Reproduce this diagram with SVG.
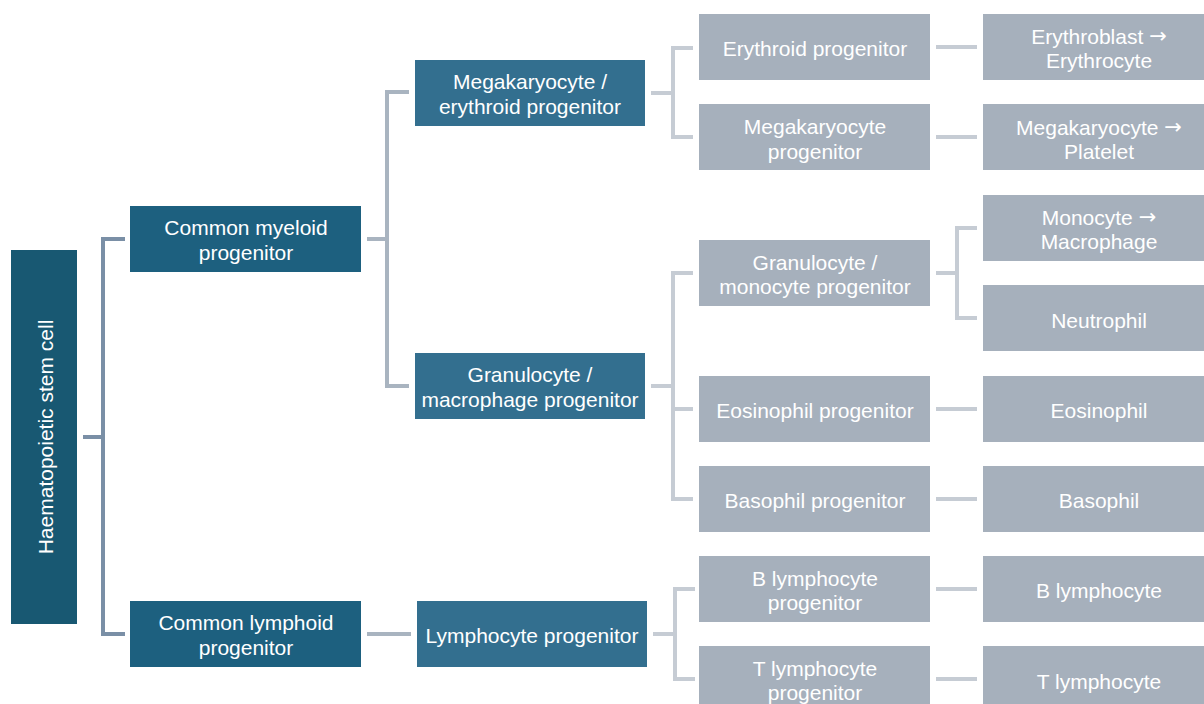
<svg xmlns="http://www.w3.org/2000/svg" width="1204" height="704" viewBox="0 0 1204 704">
<style>
.t{font-family:"Liberation Sans",Arial,sans-serif;font-size:21px;fill:#ffffff;text-anchor:middle;dominant-baseline:central}
.ar{font-family:"DejaVu Sans",sans-serif}
.hsc{fill:#185872}
.d1{fill:#1d607f}
.d2{fill:#336f8f}
.g{fill:#a6b0bc}
.c1{stroke:#7a8fa6;stroke-width:4;fill:none}
.c2{stroke:#a9b4c0;stroke-width:4;fill:none}
.c3{stroke:#c6ccd4;stroke-width:4;fill:none}
</style>
<rect width="1204" height="704" fill="#ffffff"/>
<g id="connectors">
<path class="c1" d="M83 437H103M125 239H103V634H125"/>
<path class="c2" d="M367 239H387M409 92H387V386H409"/>
<path class="c2" d="M367 634H411"/>
<path class="c3" d="M651 93H673M693 48H673V137H693"/>
<path class="c3" d="M651 386H673M693 273H673V499H693M673 409H693"/>
<path class="c3" d="M653 634H675M695 589H675V679H695"/>
<path class="c3" d="M936 273H957M977 228H957V318H977"/>
<path class="c3" d="M936 47H977M936 137H977M936 409H977M936 499H977M936 589H977M936 679H977"/>
</g>
<g id="hsc"><rect class="hsc" x="11" y="250" width="66" height="374"/><text class="t" transform="translate(45 437) rotate(-90)">Haematopoietic stem cell</text></g>
<g id="cmp"><rect class="d1" x="130" y="206" width="231" height="66"/><text class="t" x="246" y="227">Common myeloid</text><text class="t" x="246" y="252">progenitor</text></g>
<g id="clp"><rect class="d1" x="130" y="601" width="231" height="66"/><text class="t" x="246" y="622">Common lymphoid</text><text class="t" x="246" y="647">progenitor</text></g>
<g id="mep"><rect class="d2" x="415" y="60" width="230" height="66"/><text class="t" x="530" y="81">Megakaryocyte /</text><text class="t" x="530" y="106">erythroid progenitor</text></g>
<g id="gmp"><rect class="d2" x="415" y="353" width="230" height="66"/><text class="t" x="530" y="374">Granulocyte /</text><text class="t" x="530" y="399">macrophage progenitor</text></g>
<g id="lp"><rect class="d2" x="417" y="601" width="230" height="66"/><text class="t" x="532" y="635">Lymphocyte progenitor</text></g>
<g id="ep"><rect class="g" x="699" y="14" width="231" height="66"/><text class="t" x="815" y="48">Erythroid progenitor</text></g>
<g id="mkp"><rect class="g" x="699" y="104" width="231" height="66"/><text class="t" x="815" y="126">Megakaryocyte</text><text class="t" x="815" y="151">progenitor</text></g>
<g id="gmop"><rect class="g" x="699" y="240" width="231" height="66"/><text class="t" x="815" y="262">Granulocyte /</text><text class="t" x="815" y="286">monocyte progenitor</text></g>
<g id="eop"><rect class="g" x="699" y="376" width="231" height="66"/><text class="t" x="815" y="410">Eosinophil progenitor</text></g>
<g id="bap"><rect class="g" x="699" y="466" width="231" height="66"/><text class="t" x="815" y="500">Basophil progenitor</text></g>
<g id="blp"><rect class="g" x="699" y="556" width="231" height="66"/><text class="t" x="815" y="578">B lymphocyte</text><text class="t" x="815" y="602">progenitor</text></g>
<g id="tlp"><rect class="g" x="699" y="646" width="231" height="66"/><text class="t" x="815" y="668">T lymphocyte</text><text class="t" x="815" y="692">progenitor</text></g>
<g id="ery"><rect class="g" x="983" y="14" width="231" height="66"/><text class="t" x="1099" y="36">Erythroblast <tspan class="ar">→</tspan></text><text class="t" x="1099" y="60">Erythrocyte</text></g>
<g id="plt"><rect class="g" x="983" y="104" width="231" height="66"/><text class="t" x="1099" y="127">Megakaryocyte <tspan class="ar">→</tspan></text><text class="t" x="1099" y="151">Platelet</text></g>
<g id="mac"><rect class="g" x="983" y="195" width="231" height="66"/><text class="t" x="1099" y="217">Monocyte <tspan class="ar">→</tspan></text><text class="t" x="1099" y="241">Macrophage</text></g>
<g id="neu"><rect class="g" x="983" y="285" width="231" height="66"/><text class="t" x="1099" y="320">Neutrophil</text></g>
<g id="eos"><rect class="g" x="983" y="376" width="231" height="66"/><text class="t" x="1099" y="410">Eosinophil</text></g>
<g id="bas"><rect class="g" x="983" y="466" width="231" height="66"/><text class="t" x="1099" y="500">Basophil</text></g>
<g id="bl"><rect class="g" x="983" y="556" width="231" height="66"/><text class="t" x="1099" y="590">B lymphocyte</text></g>
<g id="tl"><rect class="g" x="983" y="646" width="231" height="66"/><text class="t" x="1099" y="681">T lymphocyte</text></g>
</svg>
